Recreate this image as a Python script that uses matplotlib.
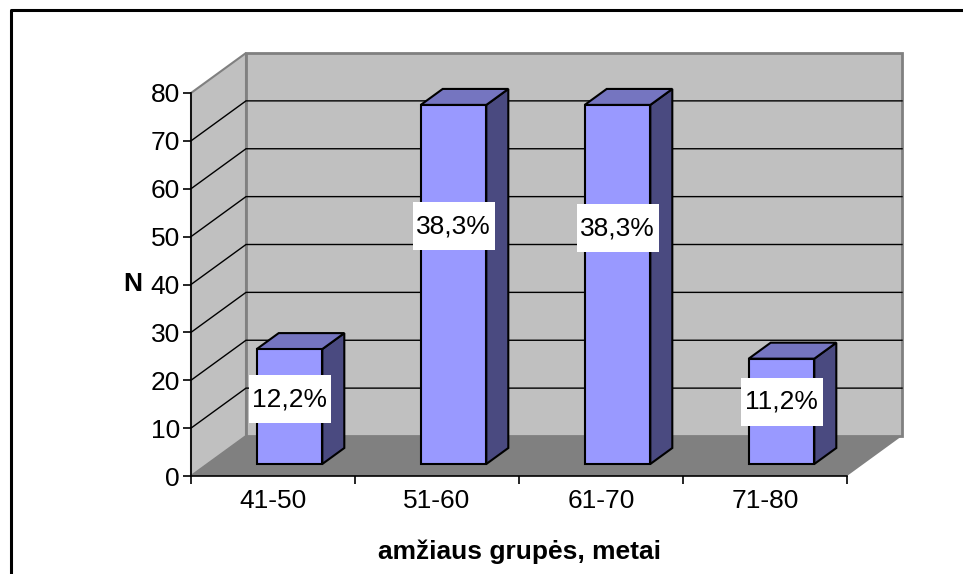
import matplotlib
matplotlib.use("Agg")
import matplotlib.pyplot as plt
from matplotlib.patches import Polygon, Rectangle
from matplotlib.lines import Line2D

plt.rcParams['font.family'] = ['Liberation Sans', 'DejaVu Sans']

# ---- data -------------------------------------------------------------
age_groups = ["41-50", "51-60", "61-70", "71-80"]
counts = [24, 75, 75, 22]
y_ticks = [0, 10, 20, 30, 40, 50, 60, 70, 80]
x_title = "amžiaus grupės, metai"
y_title = "N"

total = sum(counts)
pct_labels = [f"{100 * c / total:.1f}%".replace(".", ",") for c in counts]

# ---- layout / style ---------------------------------------------------
W, H, DPI = 963, 574, 100
YMAX = 80
DX = 0.3354          # depth shift along x (category units) for full depth
DY = 8.355           # depth shift along y (value units) for full depth
BAR_HALF = 0.2       # half width of a column
D0, D1 = 0.3, 0.7    # front / back depth of columns
LABEL_Y = [16.0, 52.2, 51.8, 15.5]   # label centres on the front plane
BOX_W, BOX_H = 0.50, 10.0
FS = 19

WALL = "#C0C0C0"
FLOOR = "#808080"
EDGE = "#808080"
FRONT = "#9999FF"
TOP = "#7575C0"
SIDE = "#4A4A80"

fig = plt.figure(figsize=(W / DPI, H / DPI), dpi=DPI)
fig.patch.set_facecolor("white")
ax = fig.add_axes([191 / W, (H - 476) / H, 656 / W, 383 / H])
ax.set_xlim(-0.5, len(age_groups) - 0.5)
ax.set_ylim(0, YMAX)
ax.set_facecolor("none")

x0, x1 = -0.5, len(age_groups) - 0.5

# side wall, back wall, floor
side_wall = Polygon([(x0, 0), (x0 + DX, DY), (x0 + DX, YMAX + DY), (x0, YMAX)],
                    closed=True, facecolor=WALL, edgecolor=EDGE, lw=1.5,
                    clip_on=False, zorder=0)
back_wall = Polygon([(x0 + DX, DY), (x1 + DX, DY), (x1 + DX, YMAX + DY), (x0 + DX, YMAX + DY)],
                    closed=True, facecolor=WALL, edgecolor=EDGE, lw=2,
                    clip_on=False, zorder=0)
floor = Polygon([(x0, 0), (x1, 0), (x1 + DX, DY), (x0 + DX, DY)],
                closed=True, facecolor=FLOOR, edgecolor="none",
                clip_on=False, zorder=0.5)
for p in (side_wall, back_wall, floor):
    ax.add_patch(p)

# gridlines on side and back walls
for v in y_ticks[1:-1]:
    ax.plot([x0, x0 + DX, x1 + DX], [v, v + DY, v + DY], color="black", lw=1.0,
            clip_on=False, zorder=1, solid_joinstyle="miter")

# columns
for i, v in enumerate(counts):
    xl, xr = i - BAR_HALF, i + BAR_HALF
    side = Polygon([(xr + D0 * DX, D0 * DY), (xr + D1 * DX, D1 * DY),
                    (xr + D1 * DX, v + D1 * DY), (xr + D0 * DX, v + D0 * DY)],
                   closed=True, facecolor=SIDE, edgecolor="black", lw=1.5,
                   clip_on=False, zorder=3, joinstyle="miter")
    top = Polygon([(xl + D0 * DX, v + D0 * DY), (xr + D0 * DX, v + D0 * DY),
                   (xr + D1 * DX, v + D1 * DY), (xl + D1 * DX, v + D1 * DY)],
                  closed=True, facecolor=TOP, edgecolor="black", lw=1.5,
                  clip_on=False, zorder=3, joinstyle="miter")
    front = Rectangle((xl + D0 * DX, D0 * DY), 2 * BAR_HALF, v,
                      facecolor=FRONT, edgecolor="black", lw=1.5,
                      clip_on=False, zorder=4, joinstyle="miter")
    for p in (side, top, front):
        ax.add_patch(p)

    # percentage label in a white box
    cx = i + D0 * DX
    cy = LABEL_Y[i]
    ax.add_patch(Rectangle((cx - BOX_W / 2, cy - BOX_H / 2), BOX_W, BOX_H,
                           facecolor="white", edgecolor="none", zorder=5,
                           clip_on=False))
    ax.text(cx, cy, pct_labels[i], ha="center", va="center", fontsize=FS,
            color="black", zorder=6)

# axes
for s in ("top", "right"):
    ax.spines[s].set_visible(False)
for s in ("left", "bottom"):
    ax.spines[s].set_color("black")
    ax.spines[s].set_linewidth(1.2)
    ax.spines[s].set_zorder(2)

ax.set_yticks(y_ticks)
ax.tick_params(axis="y", direction="out", length=6, width=1.2, pad=2,
               labelsize=FS, colors="black")

ax.set_xticks([k - 0.5 for k in range(len(age_groups) + 1)])
ax.set_xticklabels([])
ax.set_xticks(range(len(age_groups)), minor=True)
ax.set_xticklabels(age_groups, minor=True)
ax.tick_params(axis="x", which="major", direction="out", length=6, width=1.2)
ax.tick_params(axis="x", which="minor", length=0, pad=9, labelsize=FS)

ax.set_xlabel(x_title, fontsize=FS, fontweight="bold")
ax.xaxis.set_label_coords(0.5, (476 - 552) / 383)
ax.xaxis.label.set_va("center")
ax.set_ylabel(y_title, fontsize=FS, fontweight="bold", rotation=0)
ax.yaxis.set_label_coords((133 - 191) / 656, (476 - 284) / 383)
ax.yaxis.label.set_va("center")
ax.yaxis.label.set_ha("center")

# chart border (open at right and bottom)
fig.add_artist(Line2D([11 / W, 11 / W, 1.0], [0.0, 1 - 10 / H, 1 - 10 / H],
                      transform=fig.transFigure, color="black", lw=2.2))

fig.savefig("out.png", dpi=DPI, facecolor="white")
